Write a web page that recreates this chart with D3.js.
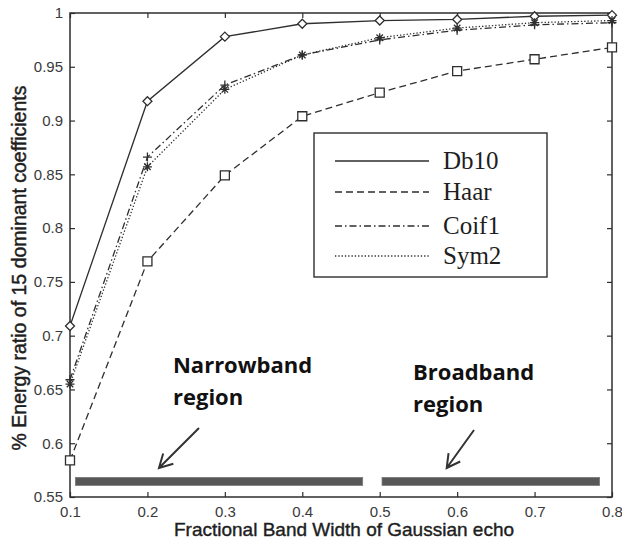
<!DOCTYPE html>
<html>
<head>
<meta charset="utf-8">
<script src="https://d3js.org/d3.v7.min.js"></script>
<style>
  body { margin: 0; background: #fff; }
  text { font-family: "Liberation Sans", Arial, sans-serif; }
</style>
</head>
<body>
<script>
// data
let bandwidth = [0.1, 0.2, 0.3, 0.4, 0.5, 0.6, 0.7, 0.8];
let db10  = [0.709, 0.918, 0.978, 0.990, 0.993, 0.994, 0.997, 0.998];
let haar  = [0.584, 0.769, 0.849, 0.904, 0.926, 0.946, 0.957, 0.968];
let coif1 = [0.659, 0.866, 0.933, 0.961, 0.975, 0.984, 0.989, 0.991];
let sym2  = [0.655, 0.857, 0.929, 0.961, 0.977, 0.986, 0.991, 0.993];
let seriesNames = ["Db10", "Haar", "Coif1", "Sym2"];
let xTicks = [0.1, 0.2, 0.3, 0.4, 0.5, 0.6, 0.7, 0.8];
let yTicks = [0.55, 0.6, 0.65, 0.7, 0.75, 0.8, 0.85, 0.9, 0.95, 1];
let regionNames = ["Narrowband", "Broadband"];
let regionStart = [0.107, 0.503];
let regionEnd   = [0.478, 0.784];
let regionLevel = 0.5645;

let width = 622, height = 544;
let plotLeft = 70, plotRight = 612, plotTop = 13, plotBottom = 497;

let svg = d3.select("body").append("svg")
    .attr("width", width)
    .attr("height", height);

let x = d3.scaleLinear().domain([0.1, 0.8]).range([plotLeft, plotRight]);
let y = d3.scaleLinear().domain([0.55, 1]).range([plotBottom, plotTop]);

let ink = "#2e2e2e";
let styles = {
  "Db10":  {dash: null, marker: "diamond"},
  "Haar":  {dash: "7,4", marker: "square"},
  "Coif1": {dash: "7,3,1.5,3", marker: "plus"},
  "Sym2":  {dash: "1.3,2", marker: "star"}
};
let values = {"Db10": db10, "Haar": haar, "Coif1": coif1, "Sym2": sym2};

// axes: ticks inward on all four sides
let tickLen = 5;
svg.append("g").attr("transform", `translate(0,${plotBottom})`)
    .call(d3.axisBottom(x).tickValues(xTicks).tickSize(-tickLen).tickPadding(tickLen + 4).tickFormat(d3.format("")))
    .call(g => g.select(".domain").remove());
svg.append("g").attr("transform", `translate(0,${plotTop})`)
    .call(d3.axisTop(x).tickValues(xTicks).tickSize(-tickLen).tickFormat(""))
    .call(g => g.select(".domain").remove());
svg.append("g").attr("transform", `translate(${plotLeft},0)`)
    .call(d3.axisLeft(y).tickValues(yTicks).tickSize(-tickLen).tickPadding(tickLen + 2).tickFormat(d3.format("")))
    .call(g => g.select(".domain").remove());
svg.append("g").attr("transform", `translate(${plotRight},0)`)
    .call(d3.axisRight(y).tickValues(yTicks).tickSize(-tickLen).tickFormat(""))
    .call(g => g.select(".domain").remove());
svg.selectAll(".tick line").attr("stroke", ink).attr("stroke-width", 1.2);
svg.selectAll(".tick text").attr("fill", "#3a3a3a").style("font-size", "15px")
    .style("font-family", "'Liberation Sans', Arial, sans-serif");

svg.append("rect")
    .attr("x", plotLeft).attr("y", plotTop)
    .attr("width", plotRight - plotLeft).attr("height", plotBottom - plotTop)
    .attr("fill", "none").attr("stroke", ink).attr("stroke-width", 1.5);

// region bars
svg.selectAll(".region")
    .data(regionStart)
    .join("rect")
      .attr("class", "region")
      .attr("x", (d, i) => x(d))
      .attr("y", y(regionLevel) - 4)
      .attr("width", (d, i) => x(regionEnd[i]) - x(d))
      .attr("height", 8)
      .attr("fill", "#575757")
      .attr("stroke", "#7a7a7a")
      .attr("stroke-width", 0.8);

// lines
let line = d3.line().x((d, i) => x(bandwidth[i])).y(d => y(d));
seriesNames.forEach(name => {
  svg.append("path")
      .datum(values[name])
      .attr("d", line)
      .attr("fill", "none")
      .attr("stroke", ink)
      .attr("stroke-width", 1.3)
      .attr("stroke-dasharray", styles[name].dash);
});

// markers
function drawMarker(g, type, cx, cy) {
  let s = 4.5;
  let p = d3.path();
  if (type == "diamond") {
    p.moveTo(cx, cy - s); p.lineTo(cx + s, cy); p.lineTo(cx, cy + s); p.lineTo(cx - s, cy); p.closePath();
  } else if (type == "square") {
    p.rect(cx - s, cy - s, 2 * s, 2 * s);
  } else if (type == "plus") {
    p.moveTo(cx - s, cy); p.lineTo(cx + s, cy); p.moveTo(cx, cy - s); p.lineTo(cx, cy + s);
  } else {
    p.moveTo(cx - s, cy); p.lineTo(cx + s, cy); p.moveTo(cx, cy - s); p.lineTo(cx, cy + s);
    let k = s * 0.72;
    p.moveTo(cx - k, cy - k); p.lineTo(cx + k, cy + k); p.moveTo(cx - k, cy + k); p.lineTo(cx + k, cy - k);
  }
  g.append("path").attr("d", p.toString())
      .attr("fill", type == "diamond" || type == "square" ? "#fff" : "none")
      .attr("stroke", ink).attr("stroke-width", 1.3);
}
seriesNames.forEach(name => {
  let g = svg.append("g");
  values[name].forEach((v, i) => drawMarker(g, styles[name].marker, x(bandwidth[i]), y(v)));
});

// legend
let legend = svg.append("g");
legend.append("rect")
    .attr("x", 314).attr("y", 133).attr("width", 233).attr("height", 144)
    .attr("fill", "#fff").attr("stroke", ink).attr("stroke-width", 1.4);
let rowY = [161, 192, 226, 256];
seriesNames.forEach((name, i) => {
  legend.append("line")
      .attr("x1", 335).attr("x2", 429).attr("y1", rowY[i]).attr("y2", rowY[i])
      .attr("stroke", ink).attr("stroke-width", 1.3)
      .attr("stroke-dasharray", styles[name].dash);
  legend.append("text")
      .attr("x", 443).attr("y", rowY[i] + 8)
      .style("font-family", "'Liberation Serif', 'Times New Roman', serif")
      .style("font-size", "25px")
      .attr("fill", "#1e1e1e")
      .text(name);
});

// axis titles
svg.append("text")
    .attr("x", 344).attr("y", 536)
    .attr("text-anchor", "middle")
    .style("font-size", "19px")
    .attr("fill", "#1e1e1e").attr("stroke", "#1e1e1e").attr("stroke-width", 0.4)
    .text("Fractional Band Width of Gaussian echo");
svg.append("text")
    .attr("transform", "translate(26,268) rotate(-90)")
    .attr("text-anchor", "middle")
    .style("font-size", "19.5px")
    .attr("fill", "#1e1e1e").attr("stroke", "#1e1e1e").attr("stroke-width", 0.45)
    .text("% Energy ratio of 15 dominant coefficients");

// annotations
let labelX = [0.233, 0.543];
let labelY = [0.6653, 0.6588];
let arrowFromX = [0.2666, 0.6218], arrowFromY = [0.6142, 0.6123];
let arrowToX = [0.2149, 0.5865], arrowToY = [0.577, 0.577];
regionNames.forEach((name, i) => {
  let t = svg.append("text")
      .attr("x", x(labelX[i])).attr("y", y(labelY[i]))
      .style("font-family", "'Open Sans', sans-serif")
      .style("font-weight", "bold")
      .style("font-size", "22px")
      .attr("fill", "#111");
  t.append("tspan").attr("x", x(labelX[i])).text(name);
  t.append("tspan").attr("x", x(labelX[i])).attr("dy", 32).text("region");

  let x1 = x(arrowFromX[i]), y1 = y(arrowFromY[i]);
  let x2 = x(arrowToX[i]), y2 = y(arrowToY[i]);
  let ang = Math.atan2(y2 - y1, x2 - x1);
  let h = 15, spread = 0.5;
  let p = d3.path();
  p.moveTo(x1, y1); p.lineTo(x2, y2);
  p.moveTo(x2 - h * Math.cos(ang - spread), y2 - h * Math.sin(ang - spread));
  p.lineTo(x2, y2);
  p.lineTo(x2 - h * Math.cos(ang + spread), y2 - h * Math.sin(ang + spread));
  svg.append("path").attr("d", p.toString())
      .attr("fill", "none").attr("stroke", "#333").attr("stroke-width", 2);
});
</script>
</body>
</html>
